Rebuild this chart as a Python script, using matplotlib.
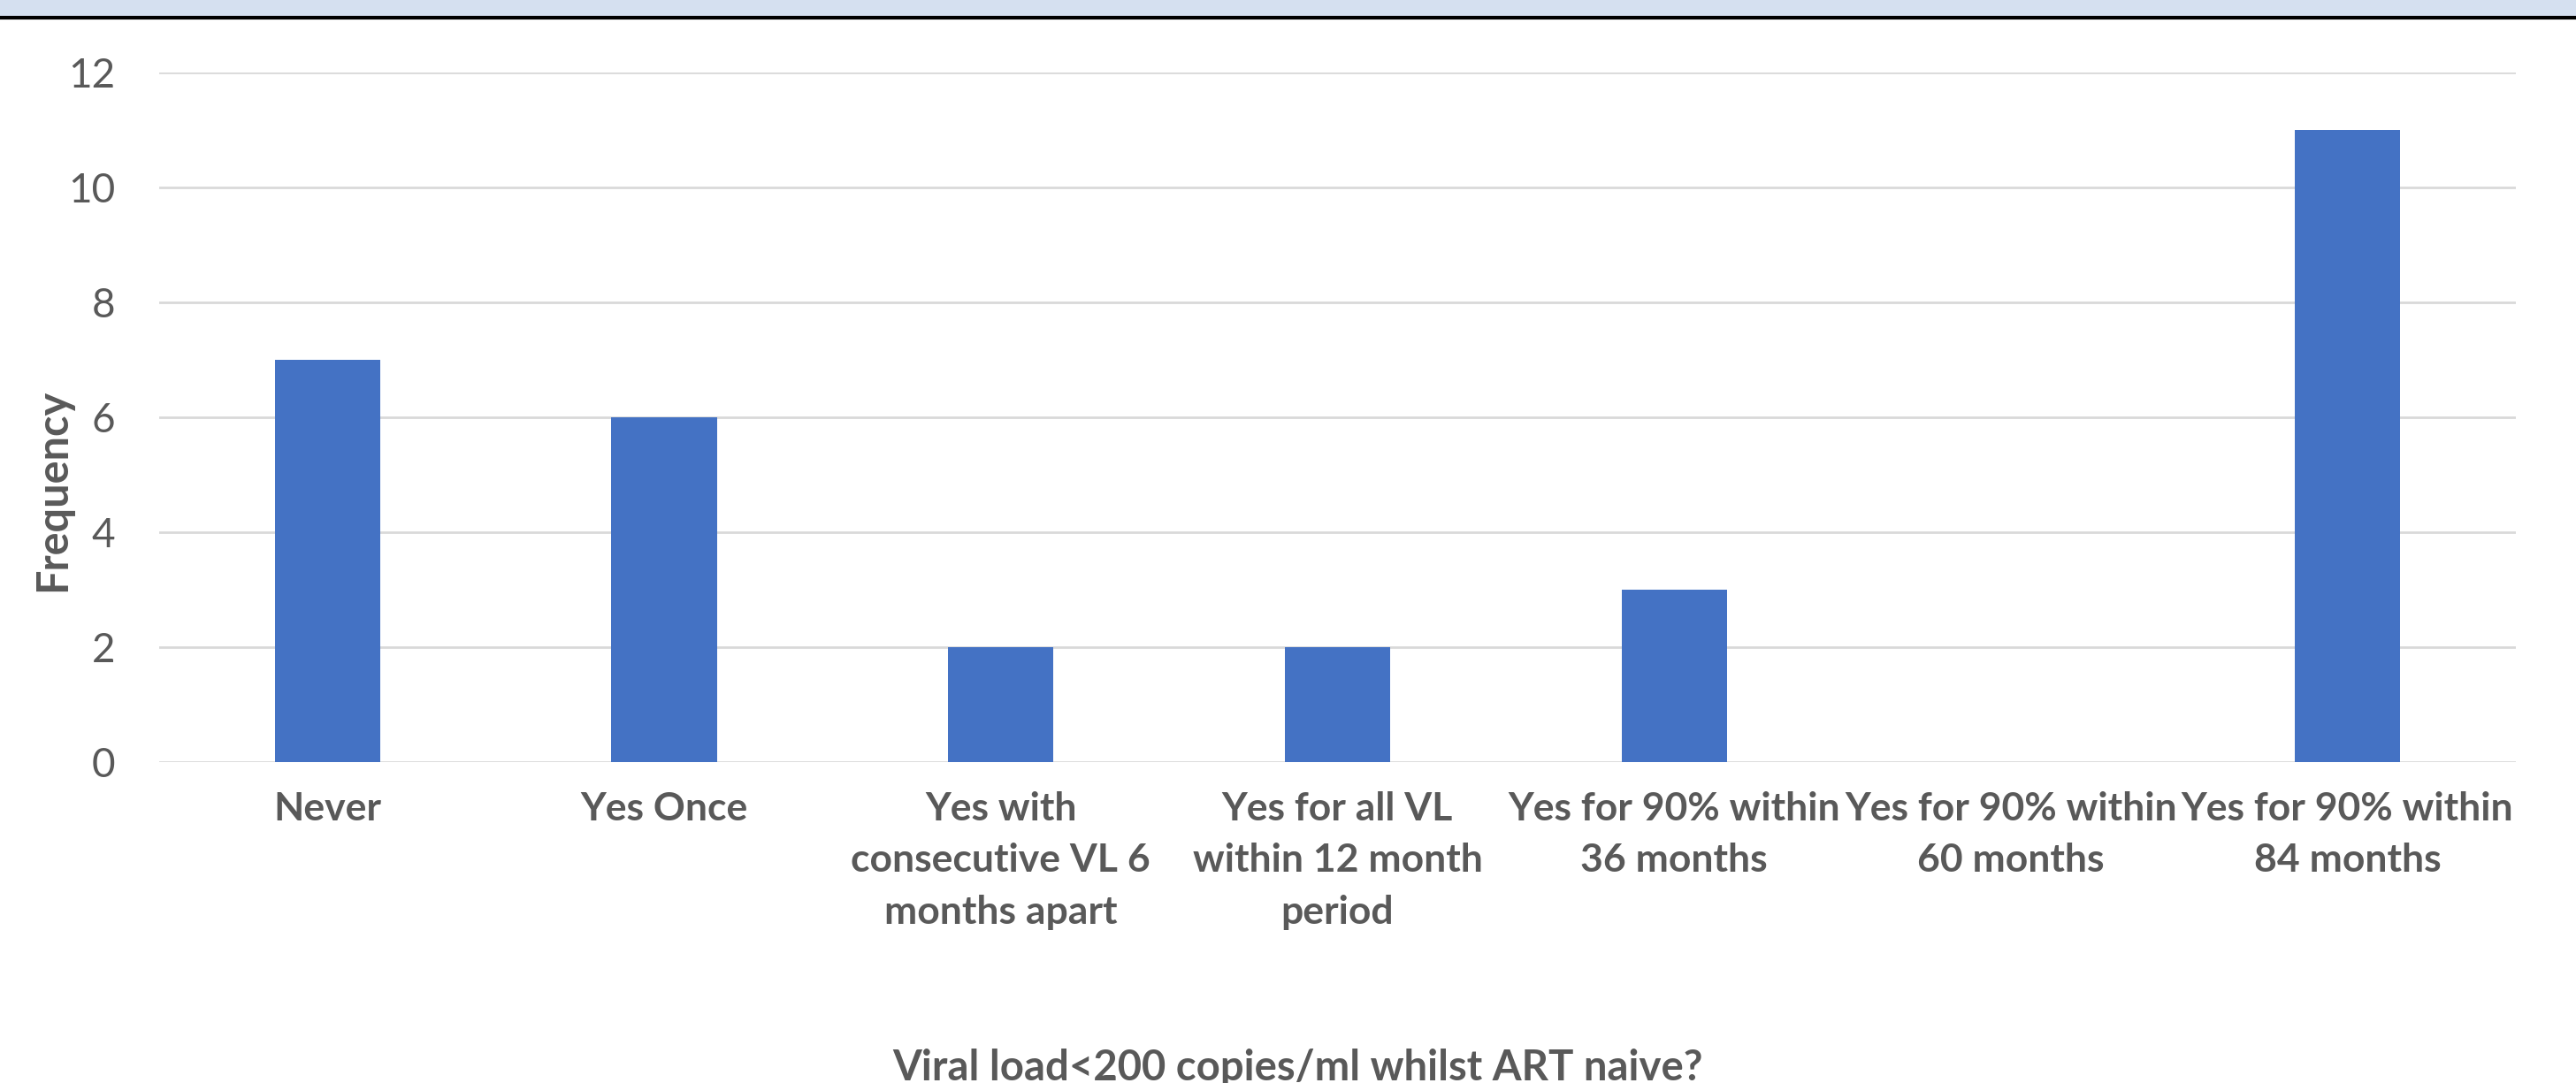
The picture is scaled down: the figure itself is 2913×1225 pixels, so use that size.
import matplotlib.pyplot as plt
from matplotlib.patches import Rectangle
from matplotlib.lines import Line2D

categories = [
    "Never",
    "Yes Once",
    "Yes with\nconsecutive VL 6\nmonths apart",
    "Yes for all VL\nwithin 12 month\nperiod",
    "Yes for 90% within\n36 months",
    "Yes for 90% within\n60 months",
    "Yes for 90% within\n84 months",
]
frequency = [7, 6, 2, 2, 3, 0, 11]
y_ticks = [0, 2, 4, 6, 8, 10, 12]

bar_color = "#4472C4"
text_color = "#595959"
grid_color = "#D9D9D9"

plt.rcParams['font.family'] = ['Lato', 'DejaVu Sans']

fig = plt.figure(figsize=(29.13, 12.25), dpi=100)

# light blue band and dark rule across the top
fig.patches.append(Rectangle((0, 1 - 18 / 1225), 1, 18 / 1225,
                             transform=fig.transFigure, facecolor="#D5E0F0",
                             edgecolor="none", zorder=0))
fig.lines.append(Line2D([0, 1], [1 - 20 / 1225, 1 - 20 / 1225],
                        transform=fig.transFigure, color="black", linewidth=3))

ax = fig.add_axes([180 / 2913, 1 - 862 / 1225, (2845 - 180) / 2913, (862 - 82) / 1225])

x = list(range(len(categories)))
ax.bar(x, frequency, width=0.313, color=bar_color, zorder=3)

ax.set_xlim(-0.5, len(categories) - 0.5)
ax.set_ylim(0, 12)
ax.set_yticks(y_ticks)
ax.set_yticklabels([str(v) for v in y_ticks], fontsize=33, color=text_color)
ax.set_xticks(x)
ax.set_xticklabels(categories, fontsize=32, fontweight="bold", color=text_color,
                   linespacing=1.55)

ax.tick_params(axis="y", length=0, pad=36)
ax.tick_params(axis="x", length=0, pad=24)
ax.grid(axis="y", color=grid_color, linewidth=2, zorder=0)
for s in ax.spines.values():
    s.set_visible(False)

fig.text(60 / 2913, 1 - 554 / 1225, "Frequency", rotation=90, ha="center", va="center",
         fontsize=35, fontweight="bold", color=text_color)

fig.text(1468 / 2913, 3 / 1225, "Viral load<200 copies/ml whilst ART naive?",
         ha="center", va="baseline", fontsize=34, fontweight="bold", color=text_color)

fig.savefig("out.png", dpi=100)
